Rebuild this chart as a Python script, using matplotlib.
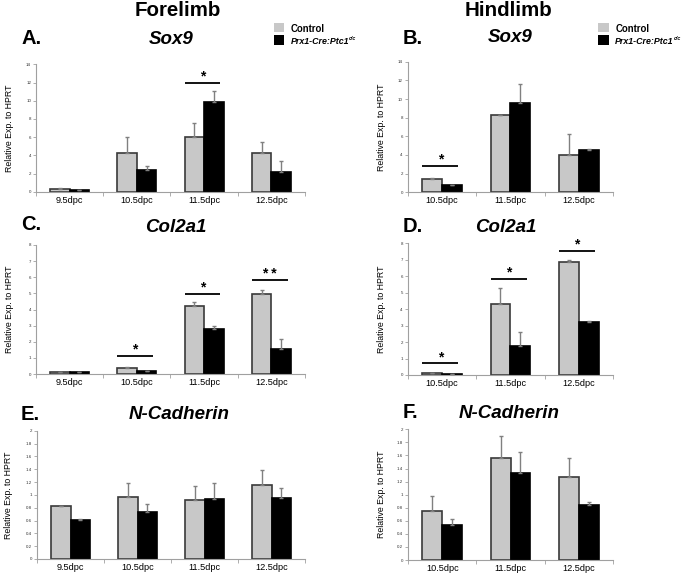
import matplotlib
matplotlib.use('Agg')
import matplotlib.pyplot as plt
from matplotlib.patches import Rectangle
import numpy as np

plt.rcParams['font.family'] = ['Liberation Sans', 'DejaVu Sans']

# ---------------- data ----------------
fore_stages = ['9.5dpc', '10.5dpc', '11.5dpc', '12.5dpc']
hind_stages = ['10.5dpc', '11.5dpc', '12.5dpc']

sox9_fore_ctrl = [0.35, 4.3, 6.05, 4.21]
sox9_fore_ctrl_err = [0.03, 1.72, 1.52, 1.3]
sox9_fore_mut = [0.18, 2.38, 9.9, 2.16]
sox9_fore_mut_err = [0.0, 0.42, 1.12, 1.25]

sox9_hind_ctrl = [1.46, 8.27, 4.0]
sox9_hind_ctrl_err = [0.1, 0.0, 2.25]
sox9_hind_mut = [0.73, 9.58, 4.54]
sox9_hind_mut_err = [0.0, 2.0, 0.05]

col_fore_ctrl = [0.1, 0.36, 4.22, 4.95]
col_fore_ctrl_err = [0.0, 0.1, 0.27, 0.28]
col_fore_mut = [0.1, 0.17, 2.77, 1.56]
col_fore_mut_err = [0.0, 0.0, 0.2, 0.6]

col_hind_ctrl = [0.1, 4.3, 6.88]
col_hind_ctrl_err = [0.0, 0.97, 0.1]
col_hind_mut = [0.08, 1.74, 3.19]
col_hind_mut_err = [0.0, 0.9, 0.06]

ncad_fore_ctrl = [0.82, 0.97, 0.925, 1.16]
ncad_fore_ctrl_err = [0.0, 0.21, 0.22, 0.22]
ncad_fore_mut = [0.61, 0.735, 0.94, 0.955]
ncad_fore_mut_err = [0.02, 0.125, 0.25, 0.155]

ncad_hind_ctrl = [0.75, 1.555, 1.265]
ncad_hind_ctrl_err = [0.23, 0.34, 0.30]
ncad_hind_mut = [0.53, 1.335, 0.84]
ncad_hind_mut_err = [0.1, 0.325, 0.05]

# significance: (group index, label, bar-line height)
sig_sox9_fore = [(2, '*', 11.98)]
sig_sox9_hind = [(0, '*', 2.86)]
sig_col_fore = [(1, '*', 1.14), (2, '*', 4.98), (3, '* *', 5.83)]
sig_col_hind = [(0, '*', 0.71), (1, '*', 5.85), (2, '*', 7.53)]
sig_ncad_fore = []
sig_ncad_hind = []

yticks_sox9 = [0, 2, 4, 6, 8, 10, 12, 14]
yticks_col = [0, 1, 2, 3, 4, 5, 6, 7, 8]
yticks_ncad = [0, 0.2, 0.4, 0.6, 0.8, 1, 1.2, 1.4, 1.6, 1.8, 2]
ylabel = 'Relative Exp. to HPRT'

W, H = 685, 574
fig = plt.figure(figsize=(W / 100, H / 100), dpi=100)

CTRL = '#c8c8c8'
AXC = '#a0a0a0'


def rect_px(x0, x1, ytop, ybot):
    return [x0 / W, 1 - ybot / H, (x1 - x0) / W, (ybot - ytop) / H]


def panel(rect, cats, ctrl, ctrl_err, mut, mut_err, yticks, sig, ylab_x):
    ax = fig.add_axes(rect)
    n = len(cats)
    x = np.arange(n)
    w = 0.29
    ax.bar(x - w / 2, ctrl, w, color=CTRL, edgecolor='#3a3a3a', linewidth=1.2, zorder=2)
    ax.bar(x + w / 2, mut, w, color='black', edgecolor='black', linewidth=1.2, zorder=2)
    ax.errorbar(x - w / 2, ctrl, yerr=[np.zeros(n), ctrl_err], fmt='none',
                ecolor='#808080', elinewidth=1.0, capsize=1.6, capthick=1.0, zorder=3)
    ax.errorbar(x + w / 2, mut, yerr=[np.zeros(n), mut_err], fmt='none',
                ecolor='#808080', elinewidth=1.0, capsize=1.6, capthick=1.0, zorder=3)
    ymax = yticks[-1]
    for i, lab, yv in sig:
        ax.plot([i - 0.29, i + 0.24], [yv, yv], color='black', lw=1.3, zorder=4,
                solid_capstyle='butt')
        ax.text(i - 0.025, yv - ymax * 0.005, lab, ha='center', va='bottom',
                fontsize=10, fontweight='bold', zorder=4)
    ax.set_xlim(-0.5, n - 0.5)
    ax.set_ylim(0, ymax)
    ax.set_yticks(yticks)
    ax.set_yticklabels([('%g' % t) for t in yticks])
    ax.tick_params(axis='y', labelsize=3.2, length=2, width=0.6, color=AXC, pad=1.5,
                   labelcolor='#333333')
    ax.set_xticks(x)
    ax.set_xticklabels(cats)
    ax.tick_params(axis='x', which='major', length=0, labelsize=6.6, pad=3)
    ax.set_xticks(np.arange(n + 1) - 0.5, minor=True)
    ax.tick_params(axis='x', which='minor', length=3, width=0.6, color=AXC)
    for s in ['top', 'right']:
        ax.spines[s].set_visible(False)
    for s in ['left', 'bottom']:
        ax.spines[s].set_color(AXC)
        ax.spines[s].set_linewidth(0.8)
    ax.patch.set_alpha(0)
    bb = ax.get_position()
    fig.text(ylab_x / W, (bb.y0 + bb.y1) / 2, ylabel, rotation=90, ha='center',
             va='center', fontsize=6.3)
    return ax


panel(rect_px(36, 305, 64.3, 191.7), fore_stages, sox9_fore_ctrl, sox9_fore_ctrl_err,
      sox9_fore_mut, sox9_fore_mut_err, yticks_sox9, sig_sox9_fore, 10)
panel(rect_px(407.7, 613, 61.7, 192.3), hind_stages, sox9_hind_ctrl, sox9_hind_ctrl_err,
      sox9_hind_mut, sox9_hind_mut_err, yticks_sox9, sig_sox9_hind, 382)
panel(rect_px(36, 305, 245, 374), fore_stages, col_fore_ctrl, col_fore_ctrl_err,
      col_fore_mut, col_fore_mut_err, yticks_col, sig_col_fore, 10)
panel(rect_px(407.7, 613, 243.3, 375), hind_stages, col_hind_ctrl, col_hind_ctrl_err,
      col_hind_mut, col_hind_mut_err, yticks_col, sig_col_hind, 382)
panel(rect_px(37, 305, 430.7, 559), fore_stages, ncad_fore_ctrl, ncad_fore_ctrl_err,
      ncad_fore_mut, ncad_fore_mut_err, yticks_ncad, sig_ncad_fore, 9)
panel(rect_px(408, 613, 429.3, 560), hind_stages, ncad_hind_ctrl, ncad_hind_ctrl_err,
      ncad_hind_mut, ncad_hind_mut_err, yticks_ncad, sig_ncad_hind, 381)


def ftext(x, y, s, **kw):
    return fig.text(x / W, 1 - y / H, s, **kw)


ftext(178, 10, 'Forelimb', ha='center', va='center', fontsize=14.8, fontweight='bold')
ftext(508, 10.5, 'Hindlimb', ha='center', va='center', fontsize=14.8, fontweight='bold')

letters = [('A.', 21, 38.7), ('B.', 403, 38), ('C.', 21, 225), ('D.', 403, 227),
           ('E.', 21, 414.5), ('F.', 403, 413)]
for s, x, y in letters:
    ftext(x, y, s, ha='left', va='center', fontsize=14.5, fontweight='bold')

genes = [('Sox9', 171, 39), ('Sox9', 510.5, 38), ('Col2a1', 175.5, 227),
         ('Col2a1', 506, 227), ('N-Cadherin', 179, 414.5), ('N-Cadherin', 509, 413)]
for s, x, y in genes:
    ftext(x, y, s, ha='center', va='center', fontsize=13.5, fontweight='bold', style='italic')

# legends
renderer = fig.canvas.get_renderer()
for lx in (273.5, 598.3):
    fig.patches.append(Rectangle((lx / W, 1 - 31.7 / H), 10.5 / W, 8.7 / H,
                                 transform=fig.transFigure, facecolor=CTRL, edgecolor='none'))
    fig.patches.append(Rectangle((lx / W, 1 - 45.2 / H), 10.5 / W, 10 / H,
                                 transform=fig.transFigure, facecolor='black', edgecolor='none'))
    ftext(lx + 17, 29, 'Control', ha='left', va='center', fontsize=6.9, fontweight='bold')
    t = ftext(lx + 17, 41.5, 'Prx1-Cre:Ptc1', ha='left', va='center', fontsize=6.4,
              fontweight='bold', style='italic')
    bb = t.get_window_extent(renderer)
    fig.text(bb.x1 / W + 0.3 / W, 1 - 39.0 / H, 'c/c', ha='left', va='center', fontsize=3.8,
             fontweight='bold', style='italic')

fig.savefig('out.png', dpi=100, facecolor='white')
